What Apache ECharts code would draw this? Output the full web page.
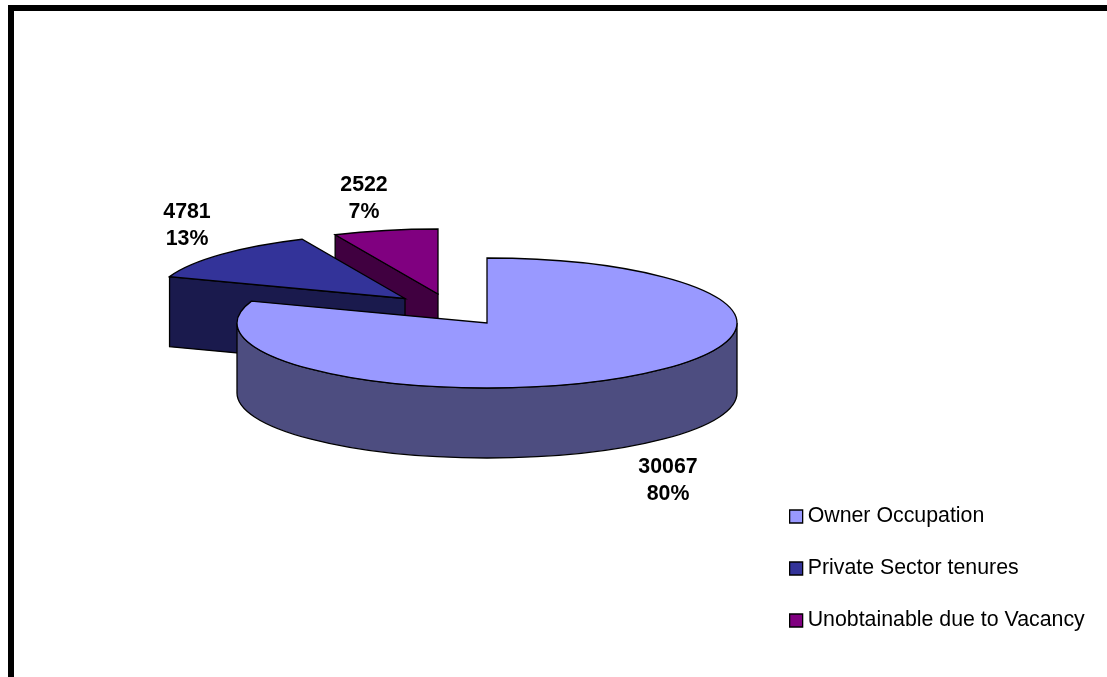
<!DOCTYPE html>
<html>
<head>
<meta charset="utf-8">
<style>html,body{margin:0;padding:0;background:#fff}#c{width:1107px;height:677px}</style>
<script src="https://cdn.jsdelivr.net/npm/echarts@6/dist/echarts.min.js"></script>
</head>
<body>
<div id="c"></div>
<script>
const categories = ['Owner Occupation', 'Private Sector tenures', 'Unobtainable due to Vacancy'];
const values = [30067, 4781, 2522];
const topColors = ['#9999ff', '#333399', '#800080'];
const sideColors = ['#4d4d80', '#1a1a4d', '#400040'];

// projection of the tilted pie (view geometry only)
const RX = 250, RY = 65, DEPTH = 70;
const centers = [[487, 323], [405, 298.5], [438, 294]];
const labelAnchors = [[668, 481], [187, 226], [364, 199]];
const total = values.reduce((a, b) => a + b, 0);

function pt(c, deg, dy) {
  const t = deg * Math.PI / 180;
  return [c[0] + RX * Math.sin(t), c[1] - RY * Math.cos(t) + (dy || 0)];
}
function startAngle(i) {
  return values.slice(0, i).reduce((a, b) => a + b, 0) / total * 360;
}
function renderSlice(i) {
  return function () {
    const c = centers[i];
    const a0 = startAngle(i), a1 = a0 + values[i] / total * 360;
    const s = pt(c, a0), e = pt(c, a1);
    const large = a1 - a0 > 180 ? 1 : 0;
    const children = [];
    const stroke = { stroke: '#000', lineWidth: 1.3 };
    // side walls
    if (a1 - a0 > 180) {
      const r = pt(c, 90), l = pt(c, 270);
      children.push({
        type: 'path',
        shape: { pathData: `M${r[0]} ${r[1]}A${RX} ${RY} 0 0 1 ${l[0]} ${l[1]}L${l[0]} ${l[1] + DEPTH}A${RX} ${RY} 0 0 0 ${r[0]} ${r[1] + DEPTH}Z` },
        style: Object.assign({ fill: sideColors[i] }, stroke)
      });
    } else {
      children.push({
        type: 'polygon',
        shape: { points: [s, c, [c[0], c[1] + DEPTH], [s[0], s[1] + DEPTH]] },
        style: Object.assign({ fill: sideColors[i] }, stroke)
      });
    }
    // top face
    children.push({
      type: 'path',
      shape: { pathData: `M${c[0]} ${c[1]}L${s[0]} ${s[1]}A${RX} ${RY} 0 ${large} 1 ${e[0]} ${e[1]}Z` },
      style: Object.assign({ fill: topColors[i] }, stroke)
    });
    // label
    children.push({
      type: 'text',
      x: labelAnchors[i][0], y: labelAnchors[i][1],
      style: {
        text: values[i] + '\n' + Math.round(values[i] / total * 100) + '%',
        font: 'bold 21.33px "Liberation Sans", Arial, sans-serif',
        fill: '#000', align: 'center', verticalAlign: 'middle', lineHeight: 27
      }
    });
    return { type: 'group', children };
  };
}

const chart = echarts.init(document.getElementById('c'), null, { renderer: 'canvas' });
chart.setOption({
  animation: false,
  backgroundColor: '#fff',
  legend: {
    orient: 'vertical', left: 789, top: 505,
    data: categories,
    icon: 'rect', itemWidth: 13, itemHeight: 13, itemGap: 29,
    itemStyle: { borderColor: '#000', borderWidth: 1.3 },
    textStyle: { fontFamily: '"Liberation Sans", Arial, sans-serif', fontSize: 21.33, color: '#000', lineHeight: 23 },
    selectedMode: false, padding: 0
  },
  graphic: [
    { type: 'rect', shape: { x: 8, y: 5, width: 6, height: 672 }, style: { fill: '#000' }, z: 10 },
    { type: 'rect', shape: { x: 8, y: 5, width: 1099, height: 6 }, style: { fill: '#000' }, z: 10 }
  ],
  series: categories.map((name, i) => ({
    type: 'custom', name, coordinateSystem: 'none',
    z: 5 - i, silent: true,
    itemStyle: { color: topColors[i] },
    data: [[values[i]]],
    renderItem: renderSlice(i)
  }))
});
</script>
</body>
</html>
